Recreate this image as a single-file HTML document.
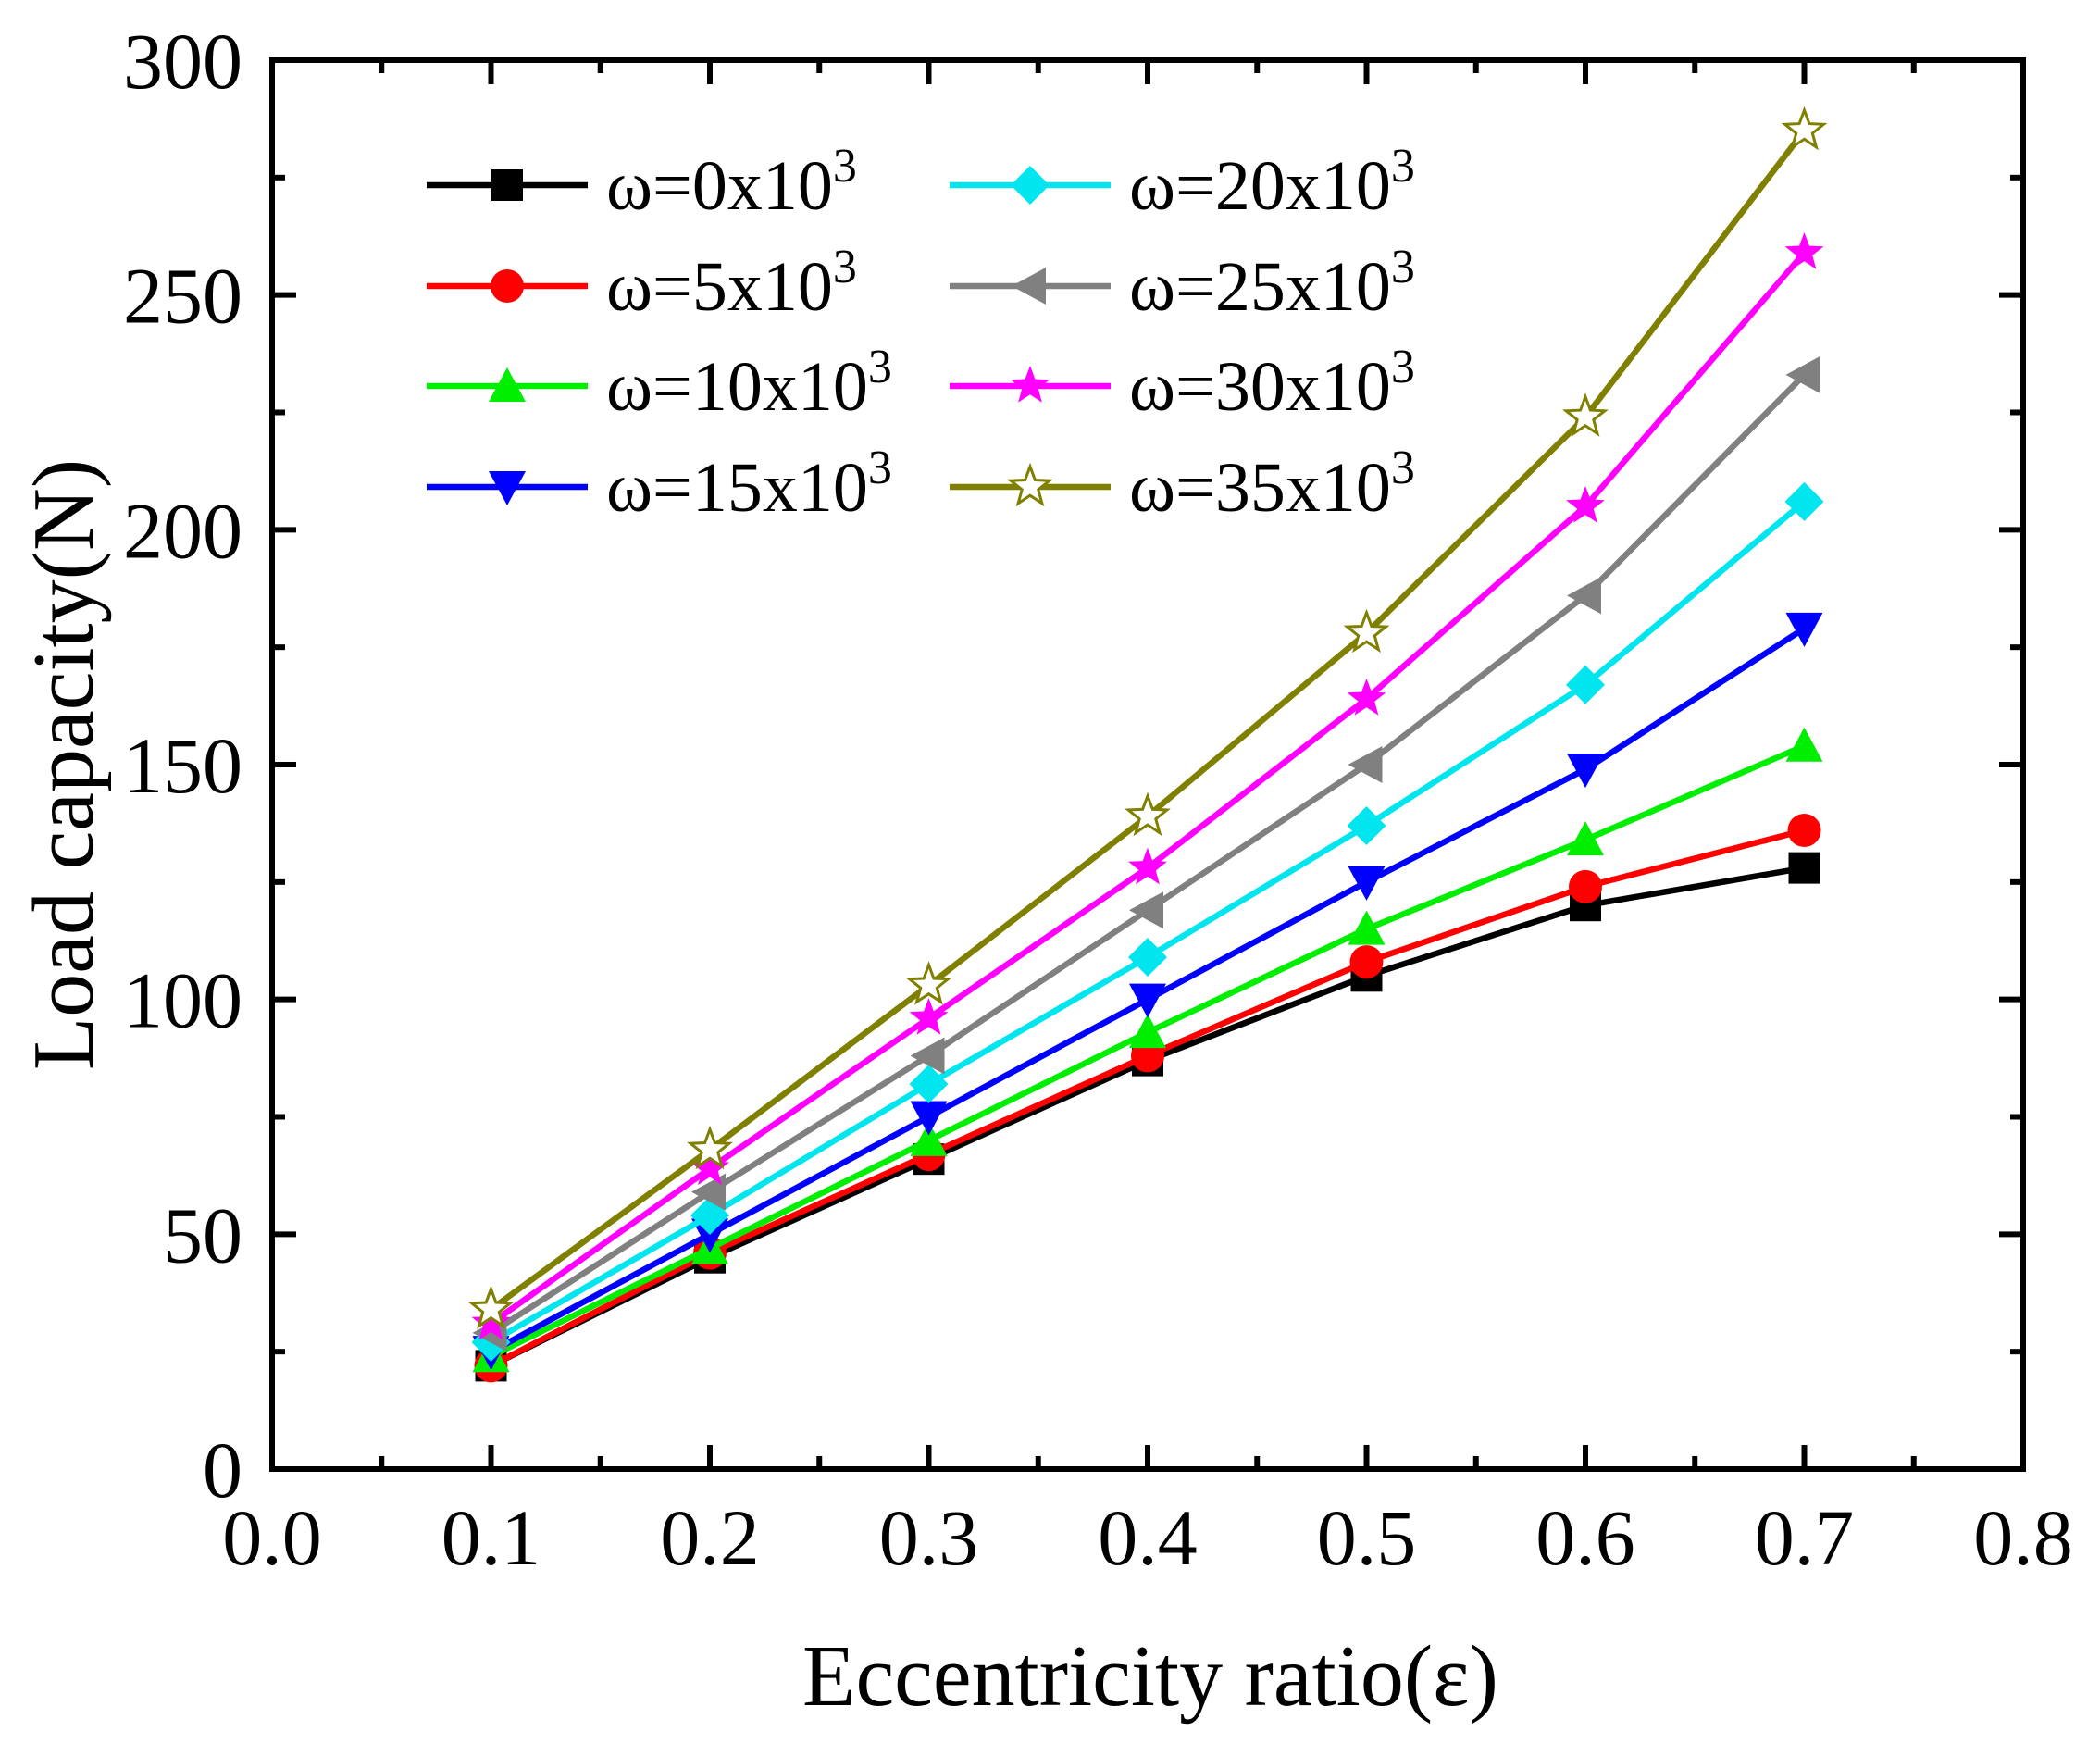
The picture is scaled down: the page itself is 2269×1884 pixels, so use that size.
<!DOCTYPE html>
<html><head><meta charset="utf-8"><style>
html,body{margin:0;padding:0;background:#fff;}
svg{display:block;font-family:"Liberation Serif",serif;}
</style></head><body>
<svg id="chart" width="2269" height="1884" viewBox="0 0 2269 1884">
<g id="plot"></g>
</svg>
<script>
const xValues=[0.1,0.2,0.3,0.4,0.5,0.6,0.7];
const s0=[22,45,66,87,105,120,128];
const s5=[22,46,67,88,108,124,136];
const s10=[24,47,70,93,115,134,154];
const s15=[25,50,75,100,125,149,179];
const s20=[27,54,82,109,137,167,206];
const s25=[29,59,88,119,150,186,233];
const s30=[31,64,96,128,164,205,259];
const s35=[34,68,103,139,178,224,285];
const seriesLabels=["0","5","10","15","20","25","30","35"];
const xTicks=[0.0,0.1,0.2,0.3,0.4,0.5,0.6,0.7,0.8];
const yTicks=[0,50,100,150,200,250,300];

const L=294,R=2186,T=65,B=1587;
const X=v=>L+(v-0)/(0.8)*(R-L);
const Y=v=>B-(v/300)*(B-T);
const NS="http://www.w3.org/2000/svg";
const g=document.getElementById('plot');
function el(tag,attrs,parent){const e=document.createElementNS(NS,tag);for(const k in attrs)e.setAttribute(k,attrs[k]);(parent||g).appendChild(e);return e;}

const series=[
 {d:s0,c:"#000000",m:"square"},
 {d:s5,c:"#ff0000",m:"circle"},
 {d:s10,c:"#00ee00",m:"tri-up"},
 {d:s15,c:"#0000ff",m:"tri-down"},
 {d:s20,c:"#00e5ee",m:"diamond"},
 {d:s25,c:"#808080",m:"tri-left"},
 {d:s30,c:"#ff00ff",m:"star"},
 {d:s35,c:"#808000",m:"star-open"}
];
function starPts(cx,cy,r){let p=[];for(let i=0;i<10;i++){const a=-Math.PI/2+i*Math.PI/5;const rr=i%2?r*0.42:r;p.push((cx+rr*Math.cos(a)).toFixed(1)+","+(cy+rr*Math.sin(a)).toFixed(1));}return p.join(" ");}
function marker(type,cx,cy,c,parent){
 const r=17;let e;
 if(type==="square")e=el('rect',{x:cx-r,y:cy-r,width:2*r,height:2*r,fill:c},parent);
 else if(type==="circle")e=el('circle',{cx:cx,cy:cy,r:r+1,fill:c},parent);
 else if(type==="tri-up")e=el('polygon',{points:`${cx},${cy-r-3} ${cx+r+3},${cy+r} ${cx-r-3},${cy+r}`,fill:c},parent);
 else if(type==="tri-down")e=el('polygon',{points:`${cx-r-3},${cy-r} ${cx+r+3},${cy-r} ${cx},${cy+r+3}`,fill:c},parent);
 else if(type==="tri-left")e=el('polygon',{points:`${cx-r-3},${cy} ${cx+r},${cy-r-3} ${cx+r},${cy+r+3}`,fill:c},parent);
 else if(type==="diamond")e=el('polygon',{points:`${cx},${cy-r-4} ${cx+r+4},${cy} ${cx},${cy+r+4} ${cx-r-4},${cy}`,fill:c},parent);
 else if(type==="star")e=el('polygon',{points:starPts(cx,cy,r+5),fill:c},parent);
 else e=el('polygon',{points:starPts(cx,cy,r+5),fill:"#fff",stroke:c,"stroke-width":3},parent);
 return e;
}
series.forEach((s,i)=>{
 const sg=el('g',{});
 
 
 const pts=s.d.map((v,j)=>X(xValues[j]).toFixed(1)+","+Y(v).toFixed(1)).join(" ");
 const pl=el('polyline',{points:pts,fill:"none",stroke:s.c,"stroke-width":6.5,"stroke-linejoin":"round"},sg);
 
 
 s.d.forEach((v,j)=>{
  const m=marker(s.m,X(xValues[j]),Y(v),s.c,sg);
  
  
 });
});
const frame=el('rect',{x:L,y:T,width:R-L,height:B-T,fill:"none",stroke:"#000","stroke-width":6});


for(let k=0;k<=16;k++){
 const v=k*0.05,x=X(v),len=k%2?14:26;
 el('line',{x1:x,y1:B,x2:x,y2:B-len,stroke:"#000","stroke-width":6});
 el('line',{x1:x,y1:T,x2:x,y2:T+len,stroke:"#000","stroke-width":6});
}
xTicks.forEach(v=>{
 const t=el('text',{x:X(v),y:1690,"font-size":86,"text-anchor":"middle"});
 t.textContent=v.toFixed(1);
 
 
});
for(let k=0;k<=12;k++){
 const v=k*25,y=Y(v),len=k%2?14:26;
 el('line',{x1:L,y1:y,x2:L+len,y2:y,stroke:"#000","stroke-width":6});
 el('line',{x1:R,y1:y,x2:R-len,y2:y,stroke:"#000","stroke-width":6});
}
yTicks.forEach(v=>{
 const t=el('text',{x:262,y:Y(v)+30,"font-size":86,"text-anchor":"end"});
 t.textContent=v;
 
 
});
const xt=el('text',{x:1243,y:1842,"font-size":94,"text-anchor":"middle"});
xt.textContent="Eccentricity ratio(ε)";


const yt=el('text',{x:0,y:0,"font-size":94,"text-anchor":"middle",transform:"translate(100,826) rotate(-90)"});
yt.textContent="Load capacity(N)";


const lg=el('g',{});


const rows=[200,309,417,526];
series.forEach((s,i)=>{
 const col=i<4?0:1,row=i%4;
 const x0=col?1026:461,y=rows[row];
 const eg=el('g',{},lg);
 
 
 el('line',{x1:x0,y1:y,x2:x0+174,y2:y,stroke:s.c,"stroke-width":6.5},eg);
 marker(s.m,x0+87,y,s.c,eg);
 const t=el('text',{x:x0+194,y:y+26,"font-size":76},eg);
 t.innerHTML="ω="+seriesLabels[i]+"x10<tspan dy='-30' font-size='52'>3</tspan>";
});
</script>
</body></html>
